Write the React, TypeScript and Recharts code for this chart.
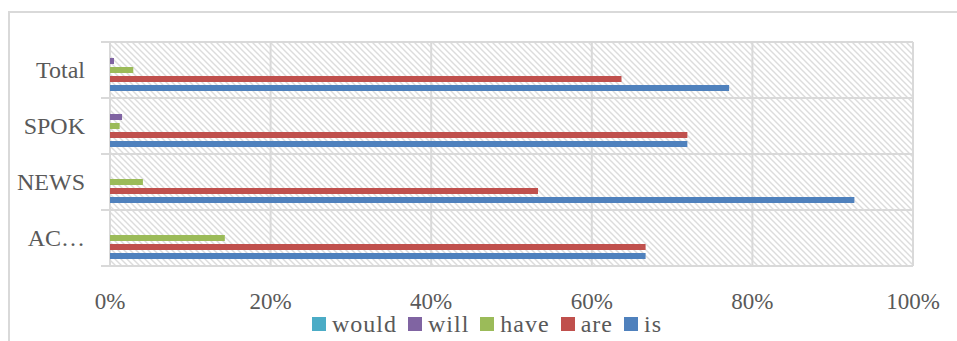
import { BarChart, Bar, XAxis, YAxis, CartesianGrid, Legend } from 'recharts'

const categories = ['Total', 'SPOK', 'NEWS', 'AC…']
const wouldValues = [0, 0, 0, 0]
const willValues = [0.5, 1.5, 0, 0]
const haveValues = [2.9, 1.2, 4.1, 14.3]
const areValues = [63.7, 71.9, 53.3, 66.7]
const isValues = [77.1, 71.9, 92.7, 66.7]
const xTicks = [0, 20, 40, 60, 80, 100]

const series = [
  { key: 'would', color: '#4bacc6' },
  { key: 'will', color: '#8064a2' },
  { key: 'have', color: '#9bbb59' },
  { key: 'are', color: '#c0504d' },
  { key: 'is', color: '#4f81bd' },
]

const data = categories.map((name, i) => ({
  name,
  would: wouldValues[i],
  will: willValues[i],
  have: haveValues[i],
  are: areValues[i],
  is: isValues[i],
}))

const W = 957
const H = 341
const TOP = 42
const BOTTOM = 75
const LEFT = 110
const RIGHT = 44
const PLOT_H = H - TOP - BOTTOM
const BAND = PLOT_H / categories.length
const FONT = '"Liberation Serif", serif'
const TEXT = '#595959'
const GRID = '#d9d9d9'

function CategoryTick(props: any) {
  const { x, y, payload, index } = props
  return (
    <g>
      <line x1={LEFT - 9} x2={LEFT} y1={y - BAND / 2} y2={y - BAND / 2} stroke={GRID} strokeWidth={2} />
      {index === categories.length - 1 && (
        <line x1={LEFT - 9} x2={LEFT} y1={y + BAND / 2} y2={y + BAND / 2} stroke={GRID} strokeWidth={2} />
      )}
      <text x={x} y={y} dy={8} textAnchor="end" fill={TEXT} fontSize={24} fontFamily={FONT}>
        {payload.value}
      </text>
    </g>
  )
}

function LegendContent(props: any) {
  const order = series.map((s) => s.key)
  const payload = [...(props.payload || [])].sort(
    (a: any, b: any) => order.indexOf(a.dataKey) - order.indexOf(b.dataKey)
  )
  return (
    <div style={{ display: 'flex', justifyContent: 'center', alignItems: 'center', fontFamily: FONT, fontSize: 24, color: TEXT }}>
      {payload.map((p: any) => (
        <div key={p.value} style={{ display: 'flex', alignItems: 'center', marginRight: 11 }}>
          <span style={{ width: 14, height: 14, background: p.color, display: 'inline-block', marginRight: 6 }} />
          <span style={{ lineHeight: '24px', letterSpacing: 1 }}>{p.value}</span>
        </div>
      ))}
    </div>
  )
}

export default function App() {
  return (
    <div style={{ position: 'absolute', left: 0, top: 0, width: W, height: H, overflow: 'hidden', background: '#fff' }}>
      <svg width={0} height={0} style={{ position: 'absolute' }}>
        <defs>
          <pattern id="hatch" patternUnits="userSpaceOnUse" width={6} height={6}>
            <rect width={6} height={6} fill="#fff" />
            <path d="M-1,-1 L7,7 M-1,5 L1,7 M5,-1 L7,1" stroke="#dcdcdc" strokeWidth={1.4} />
          </pattern>
        </defs>
      </svg>
      <div style={{ position: 'absolute', left: 8, top: 11, width: 1200, height: 600, border: `2px solid ${GRID}` }} />
      <div style={{ position: 'absolute', left: 0, top: 0 }}>
        <BarChart
          width={W}
          height={H}
          data={data}
          layout="vertical"
          margin={{ top: TOP, right: RIGHT, bottom: 0, left: 0 }}
          barSize={6}
          barGap={3}
        >
          <CartesianGrid
            stroke={GRID}
            strokeWidth={2}
            fill="url(#hatch)"
            fillOpacity={1}
            horizontalCoordinatesGenerator={({ offset }: any) =>
              categories.map((_, i) => offset.top + i * (offset.height / categories.length)).concat([offset.top + offset.height])
            }
          />
          <XAxis
            type="number"
            domain={[0, 100]}
            ticks={xTicks}
            tickFormatter={(v) => `${v}%`}
            axisLine={false}
            tickLine={false}
            tickSize={0}
            tickMargin={27}
            height={BOTTOM}
            interval={0}
            tick={{ fill: TEXT, fontSize: 23, fontFamily: FONT }}
          />
          <YAxis
            type="category"
            dataKey="name"
            width={LEFT}
            axisLine={false}
            tickLine={false}
            tickSize={0}
            tickMargin={25}
            tick={<CategoryTick />}
          />
          <Legend
            layout="horizontal"
            verticalAlign="middle"
            align="center"
            itemSorter={null}
            content={<LegendContent />}
            wrapperStyle={{ top: 312, left: 0, width: 985 }}
          />
          {series.map((s) => (
            <Bar key={s.key} dataKey={s.key} fill={s.color} isAnimationActive={false} />
          ))}
        </BarChart>
      </div>
    </div>
  )
}
